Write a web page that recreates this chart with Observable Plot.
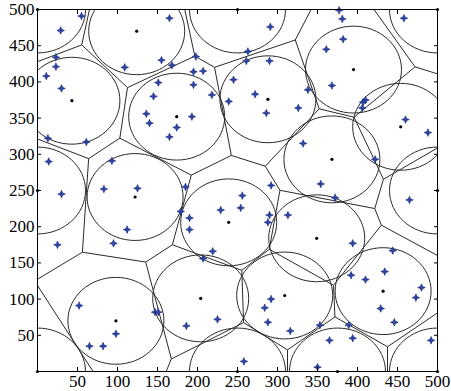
<!DOCTYPE html>
<html><head><meta charset="utf-8">
<script src="https://cdn.jsdelivr.net/npm/d3@7"></script>
<script src="https://cdn.jsdelivr.net/npm/@observablehq/plot@0.6"></script>
<style>body{margin:0;background:#fff} svg{display:block}</style>
</head><body><div id="chart"></div>
<script>
// Cluster centres (black dots), including those on the field boundary
const centerX = [124, 43, 174, 395, 288, 454, 368, 122, 239, 204, 98, 349, 432, 309, 0, 0, 0, 250, 500, 500, 500, 375, 250];
const centerY = [470, 374, 352, 417, 376, 338, 293, 241, 206, 101, 70, 184, 111, 105, 0, 250, 500, 500, 500, 250, 0, 0, 0];
const coverRadius = 60;
// Sensor nodes (blue stars)
const nodeX = [55, 29, 165, 23, 23, 11, 30, 109, 155, 168, 151, 145, 136, 140, 174, 165, 193, 195, 207, 195, 198, 218, 239, 13, 61, 14, 93, 83, 125, 185,
  291, 377, 381, 458, 382, 361, 263, 261, 290, 245, 368, 272, 338, 286, 326, 407, 410, 406, 460, 488, 332, 422, 292, 354,
  30, 179, 190, 190, 112, 95, 25, 229, 219, 207, 52, 147, 151, 98, 65, 82, 186, 225,
  256, 254, 290, 288, 313, 372, 465, 394, 444, 434, 392, 410, 480, 473, 429, 446, 292, 284, 288, 316, 353, 389, 394, 365, 492, 258, 350];
const nodeY = [491, 471, 488, 434, 421, 408, 391, 420, 430, 423, 399, 380, 356, 343, 337, 324, 352, 414, 415, 396, 435, 382, 373, 322, 317, 290, 291, 252, 253, 255,
  476, 499, 487, 488, 459, 445, 442, 429, 429, 403, 395, 383, 389, 357, 364, 372, 375, 364, 348, 330, 315, 293, 257, 259,
  245, 221, 212, 196, 196, 177, 175, 223, 166, 156, 91, 82, 82, 52, 35, 35, 63, 72,
  243, 226, 216, 206, 216, 240, 237, 177, 167, 138, 133, 127, 116, 102, 87, 68, 100, 88, 68, 56, 64, 64, 46, 43, 43, 14, 6];
const tickValues = [50, 100, 150, 200, 250, 300, 350, 400, 450, 500];
const gridTicks = [0, 50, 100, 150, 200, 250, 300, 350, 400, 450, 500];

const centers = centerX.map((x, i) => ({x, y: centerY[i], r: coverRadius}));
const nodes = nodeX.map((x, i) => ({x, y: nodeY[i]}));

const W = 451, H = 391, ml = 37, mr = 14, mt = 9, mb = 20;
const ky = (H - mt - mb) / (W - ml - mr);

const ellipse = {draw(c, size) {
  const rx = Math.sqrt(size / Math.PI), ry = rx * ky, k = 0.5523;
  c.moveTo(rx, 0);
  c.bezierCurveTo(rx, k * ry, k * rx, ry, 0, ry);
  c.bezierCurveTo(-k * rx, ry, -rx, k * ry, -rx, 0);
  c.bezierCurveTo(-rx, -k * ry, -k * rx, -ry, 0, -ry);
  c.bezierCurveTo(k * rx, -ry, rx, -k * ry, rx, 0);
  c.closePath();
}};
const star = {draw(c, size) {
  const r = Math.sqrt(size / Math.PI), w = r * 0.3;
  c.moveTo(0, -r); c.lineTo(w, -w); c.lineTo(r, 0); c.lineTo(w, w);
  c.lineTo(0, r); c.lineTo(-w, w); c.lineTo(-r, 0); c.lineTo(-w, -w); c.closePath();
}};

const font = {fontSize: 17, fontFamily: "Liberation Serif, Times New Roman, serif", fill: "#000"};
const tk = {tickSize: 4, tickFormat: () => "", label: null, stroke: "#000"};

const chart = Plot.plot({
  width: W, height: H,
  marginLeft: ml, marginRight: mr, marginTop: mt, marginBottom: mb,
  style: {background: "#fff", overflow: "visible"},
  x: {domain: [0, 500]},
  y: {domain: [0, 500]},
  r: {type: "linear", domain: [0, 500], range: [0, W - ml - mr]},
  marks: [
    Plot.voronoiMesh(centers, {x: "x", y: "y", stroke: "#2a2a2a", strokeOpacity: 1, strokeWidth: 1}),
    Plot.dot(centers, {x: "x", y: "y", r: "r", symbol: ellipse, stroke: "#2a2a2a", strokeWidth: 1, fill: "none", clip: true}),
    Plot.dot(nodes, {x: "x", y: "y", r: 3.8, symbol: star, fill: "#2c44a6", stroke: "#1b2a78", strokeWidth: 0.6}),
    Plot.dot(centers, {x: "x", y: "y", r: 1.6, fill: "#000", stroke: "none"}),
    Plot.frame({stroke: "#000", strokeWidth: 1}),
    Plot.axisX({ticks: gridTicks, anchor: "bottom", dy: -4, ...tk}),
    Plot.axisX({ticks: gridTicks, anchor: "top", dy: 4, ...tk}),
    Plot.axisY({ticks: gridTicks, anchor: "left", dx: 4, ...tk}),
    Plot.axisY({ticks: gridTicks, anchor: "right", dx: -4, ...tk}),
    Plot.axisX({ticks: tickValues, anchor: "bottom", tickSize: 0, tickPadding: 3, label: null, ...font}),
    Plot.axisY({ticks: tickValues, anchor: "left", tickSize: 0, tickPadding: 3, label: null, ...font})
  ]
});
document.getElementById("chart").appendChild(chart);
</script>
</body></html>
